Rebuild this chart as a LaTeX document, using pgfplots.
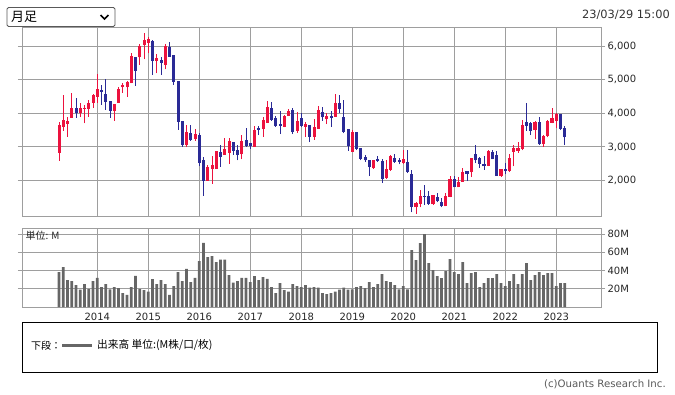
\documentclass[border=0pt]{standalone}
\usepackage{pgfplots}
\usepackage{pgfplotstable}
\pgfplotsset{compat=1.18}
\usepackage{fontspec}
\setmainfont{DejaVu Sans}
\newfontfamily\jp{Noto Sans CJK JP}
\definecolor{upc}{RGB}{236,18,62}
\definecolor{dnc}{RGB}{42,42,150}
\definecolor{gridc}{RGB}{158,158,158}
\definecolor{volc}{RGB}{102,102,102}
% monthly candles, m = months since Jan 2013: m O H L C
\pgfplotstableread{
m O H L C
3 2830 3750 2590 3660
4 3600 4545 3485 3800
5 3690 3900 3305 3775
6 3870 4610 3865 4160
8 4000 4317 3882 4160
9 4135 4248 3703 4160
10 4140 4386 3901 4317
11 4317 4565 4168 4545
12 4495 5168 4317 4713
16 4079 4277 3782 4277
17 4317 4772 4317 4723
18 4772 4911 4614 4842
19 4772 4970 4495 4941
20 4891 5802 4891 5703
22 5663 6059 5436 6000
23 6030 6376 5604 6178
24 6099 6277 5782 6208
26 5564 5762 5188 5644
28 5436 6059 5307 6000
33 3060 3654 3010 3456
35 3228 3525 3188 3386
38 2000 2466 2000 2410
39 2337 2733 1901 2466
40 2337 2882 2337 2882
42 2763 3257 2763 2941
43 2832 3257 2495 3178
46 2780 3350 2630 3170
49 3000 3630 3000 3500
51 3540 3880 3300 3800
52 3720 4370 3720 4200
56 3600 3950 3580 3920
57 3920 4130 3920 4070
59 3480 4040 3420 3760
61 3600 3750 3300 3680
63 3300 3820 3220 3580
64 3540 4230 3540 4100
66 3840 4000 3680 3920
68 3900 4580 3900 4300
72 2850 3500 2850 3450
77 2370 2600 2340 2600
80 2070 2600 2050 2350
81 2320 2750 2280 2720
84 2520 2920 2500 2630
87 1200 1370 1020 1340
88 1300 1730 1200 1550
91 1300 1570 1280 1570
94 1230 1640 1230 1540
95 1520 2150 1500 2060
97 1800 2120 1800 1970
98 1970 2370 1970 2240
100 2240 2660 2100 2660
104 2440 2900 2420 2880
107 2130 2350 2120 2340
109 2280 2780 2250 2660
110 2850 3050 2420 2960
111 2880 3150 2820 2960
112 2950 3800 2900 3650
115 3500 3780 3250 3750
117 3080 3350 3000 3320
118 3320 3800 3280 3770
119 3720 4160 3700 3860
120 3780 4000 3550 3970
}\updata
\pgfplotstableread{
m O H L C
7 4160 4456 3872 4000
13 4693 4842 4248 4644
14 4574 5010 4099 4347
15 4376 4376 3872 4079
21 5663 5683 4812 5267
25 6158 6178 5139 5564
27 5584 5663 5139 5505
29 5980 6129 5683 5683
30 5733 5733 4842 4941
31 4970 4970 3505 3753
32 3772 3772 3010 3060
34 3406 3654 3188 3208
36 3360 3410 2420 2520
37 2614 2713 1550 2000
41 2862 3060 2416 2713
44 3160 3160 2760 2880
45 2900 3050 2600 2760
47 3220 3550 3000 3020
48 3120 3120 2950 3020
50 3560 3630 3350 3500
53 4160 4340 3780 3800
54 3850 3920 3600 3620
55 3680 4060 3380 3630
58 4100 4150 3380 3440
60 3860 4000 3600 3630
62 3650 3650 3140 3300
65 4040 4200 3780 3880
67 3920 4080 3600 3860
69 4300 4530 4000 4140
70 3880 4400 3400 3450
71 3520 3520 2880 3020
73 3450 3450 2900 2950
74 2970 2970 2600 2650
75 2690 2770 2550 2600
76 2600 2600 2130 2400
78 2650 2720 2550 2580
79 2580 2630 1920 2040
82 2660 2780 2530 2550
83 2600 2680 2480 2550
85 2550 2900 2220 2250
86 2200 2320 1050 1220
89 1555 1880 1280 1530
90 1550 1700 1280 1300
92 1520 1620 1350 1380
93 1360 1480 1200 1230
96 2050 2150 1800 1800
99 2270 2270 1980 2190
101 2780 3050 2520 2600
102 2660 2700 2380 2500
103 2500 2720 2320 2420
105 2850 2900 2630 2630
106 2750 2870 2130 2130
108 2330 2520 2180 2280
113 3730 4300 3480 3630
114 3720 3750 3350 3480
116 3730 3880 3060 3080
121 3990 3990 3500 3530
122 3560 3620 3050 3280
}\dndata
\pgfplotstableread{
m v
3 38.4
4 43.8
5 29.6
6 28.5
7 24.1
8 19.0
9 25.2
10 19.7
11 28.5
12 32.1
13 21.9
14 25.2
15 19.4
16 21.9
17 20.8
18 15.3
19 13.2
20 21.9
21 34.3
22 19.7
23 18.6
24 16.8
25 30.7
26 25.2
27 29.6
28 25.2
29 13.2
30 23.0
31 38.4
32 28.5
33 42.0
34 27.4
35 32.1
36 50.4
37 70.5
38 54.8
39 55.9
40 49.3
41 51.9
42 51.9
43 35.1
44 26.7
45 28.5
46 32.1
47 32.1
48 27.4
49 34.0
50 29.6
51 32.9
52 31.0
53 21.9
54 15.3
55 26.3
56 18.6
57 16.8
58 25.2
59 23.0
60 21.9
61 24.1
62 21.2
63 21.9
64 21.2
65 15.3
66 14.2
67 15.3
68 16.8
69 19.0
70 21.2
71 19.0
72 19.4
73 21.9
74 23.0
75 20.8
76 27.4
77 21.9
78 25.2
79 36.2
80 28.5
81 27.4
82 24.1
83 19.4
84 23.0
85 19.4
86 62.5
87 51.5
88 70.1
89 80.0
90 48.2
91 40.5
92 34.0
93 31.8
94 39.5
95 52.6
96 38.4
97 36.2
98 49.3
99 26.3
100 37.3
101 38.4
102 21.9
103 26.3
104 31.8
105 31.8
106 36.2
107 26.3
108 23.0
109 28.5
110 36.2
111 25.2
112 36.2
113 48.2
114 29.6
115 35.1
116 38.4
117 35.1
118 37.3
119 37.3
120 23.0
121 26.3
122 26.3
}\voldata
\pgfplotsset{
  common/.style={
    scale only axis, width=579pt,
    xmin=-5.72, xmax=130.52,
    xtick={12,24,...,120},
    axis line style={gridc, line width=0.9pt},
    grid=major, major grid style={gridc, line width=0.9pt},
    yticklabel pos=right,
    tick align=outside, major tick length=4pt,
    ytick style={gridc, line width=0.9pt},
    xtick style={draw=none},
    tick label style={font=\fontsize{10}{12}\selectfont, text=black!85},
    /pgf/number format/assume math mode=true,
    /pgf/number format/1000 sep={,},
  },
  wick/.style={draw=none, mark=none, forget plot,
    error bars/.cd, y dir=plus, y explicit, error mark=none,
    error bar style={line width=1pt, draw=#1}},
  body/.style={draw=none, mark=none, forget plot,
    error bars/.cd, y dir=plus, y explicit, error mark=none,
    error bar style={line width=3.1pt, draw=#1, line cap=butt}},
}
\begin{document}
\begin{tikzpicture}
\path[use as bounding box] (0pt,0pt) rectangle (675pt,-394pt);
% price panel
\begin{axis}[common, at={(22pt,-216.7pt)}, anchor=south west,
  height=189.2pt, ymin=925, ymax=6550,
  ytick={2000,3000,4000,5000,6000}, xticklabels={},
  yticklabel style={xshift=-1pt}]
\addplot[wick=upc] table[x=m, y=L, y error expr=\thisrow{H}-\thisrow{L}] {\updata};
\addplot[wick=dnc] table[x=m, y=L, y error expr=\thisrow{H}-\thisrow{L}] {\dndata};
\addplot[body=upc] table[x=m, y=O, y error expr=\thisrow{C}-\thisrow{O}] {\updata};
\addplot[body=dnc] table[x=m, y=C, y error expr=\thisrow{O}-\thisrow{C}] {\dndata};
\end{axis}
% volume panel
\begin{axis}[common, at={(22pt,-307pt)}, anchor=south west,
  height=78.7pt, ymin=0, ymax=86.4,
  ytick={20,40,60,80}, yticklabels={20M,40M,60M,80M},
  xticklabels={2014,2015,2016,2017,2018,2019,2020,2021,2022,2023},
  xticklabel style={yshift=1pt},
  yticklabel style={xshift=-1pt}]
\addplot[ybar, bar width=0.63, fill=volc, draw=none] table[x=m,y=v] {\voldata};
\end{axis}
% decorations
\draw[rounded corners=1.5pt, draw=black!65, line width=0.9pt, fill=white] (7pt,-7.5pt) rectangle (115pt,-26.5pt);
\node[anchor=west, inner sep=0pt, font=\jp\fontsize{13}{15}\selectfont] at (11pt,-17pt) {月足};
\draw[line width=1.7pt, black] (100.5pt,-15pt) -- (104.5pt,-19pt) -- (108.5pt,-15pt);
\node[anchor=east, inner sep=0pt, font=\fontsize{11.4}{13}\selectfont, text=black!80] at (670pt,-15pt) {23/03/29 15:00};
\node[anchor=west, inner sep=0pt, font=\jp\fontsize{10}{12}\selectfont, text=black!85] at (25.5pt,-236pt) {単位: M};
\draw[black, line width=0.9pt] (22.3pt,-322.3pt) rectangle (657pt,-372.7pt);
\node[anchor=west, inner sep=0pt, font=\jp\fontsize{10}{12}\selectfont] at (31pt,-345.5pt) {下段：};
\draw[volc, line width=2.7pt] (62.3pt,-345.5pt) -- (92.3pt,-345.5pt);
\node[anchor=west, inner sep=0pt, font=\jp\fontsize{10.7}{12}\selectfont] at (97pt,-345.5pt) {出来高 単位:(M株/口/枚)};
\node[anchor=east, inner sep=0pt, font=\fontsize{10.2}{12}\selectfont, text=black!65] at (666pt,-384.5pt) {(c)Ouants Research Inc.};
\end{tikzpicture}
\end{document}
